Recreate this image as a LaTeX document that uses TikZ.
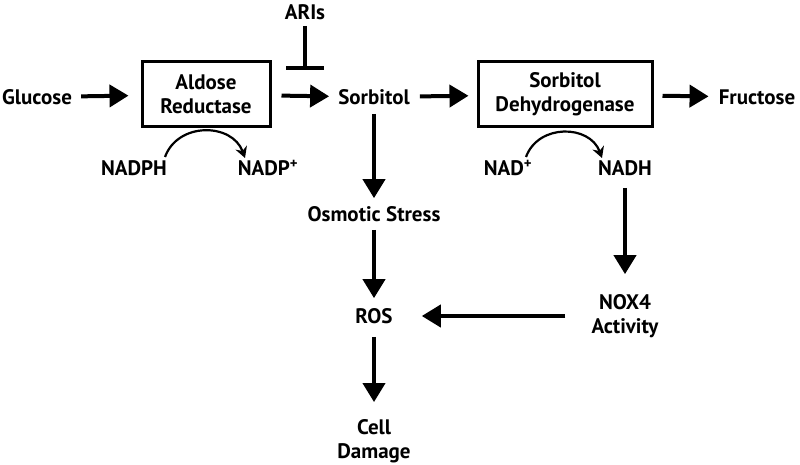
\documentclass[tikz,border=0pt]{standalone}
\usepackage{fontspec}
\setmainfont{PT Sans}
\usetikzlibrary{arrows.meta}

\begin{document}
\begin{tikzpicture}[x=1pt,y=-1pt,
	every node/.style={font=\fontsize{21}{24}\selectfont\bfseries, align=center, inner sep=0pt},
	enzyme/.style={draw, line width=3pt, minimum height=65pt},
	flow/.style={line width=4pt, -{Triangle[length=19pt,width=22pt]}},
	cofactor/.style={line width=2.2pt, -{Stealth[length=11pt,width=12pt]}, looseness=1.2},
	inhibit/.style={line width=4pt, -{Bar[width=38pt]}}]
	\useasboundingbox (0,0) rectangle (800,465);

	\node (glucose) at (37,97) {Glucose};
	\node[enzyme, minimum width=128pt] (ar) at (206,94.5) {Aldose\\Reductase};
	\node (sorbitol) at (374,97) {Sorbitol};
	\node[enzyme, minimum width=174pt] (sdh) at (565,94.5) {Sorbitol\\Dehydrogenase};
	\node (fructose) at (757,97) {Fructose};
	\node (aris) at (305,12) {ARIs};
	\coordinate (arisbar) at (305,70);

	\node (nadph) at (134,168) {NADPH};
	\node (nadpplus) at (268,168) {NADP\textsuperscript{+}};
	\node (nadplus) at (508,168) {NAD\textsuperscript{+}};
	\node (nadh) at (625,168) {NADH};

	\node (osmotic) at (374,214) {Osmotic Stress};
	\node (ros) at (374,316) {ROS};
	\node (nox4) at (625,316) {NOX4\\Activity};
	\node (damage) at (374,441) {Cell\\Damage};

	\path [flow, shorten <=9pt, shorten >=12pt] (glucose) edge (ar);
	\path [flow, shorten <=10pt, shorten >=9pt] (ar) edge (sorbitol);
	\path [flow, shorten <=10pt, shorten >=8pt] (sorbitol) edge (sdh);
	\path [flow, shorten <=9pt, shorten >=10pt] (sdh) edge (fructose);
	\path [inhibit, shorten <=6pt] (aris) edge (arisbar);

	\path [cofactor] ([xshift=31pt,yshift=11pt]nadph.center) edge[out=70,in=110] ([xshift=-23pt,yshift=10pt]nadpplus.center);
	\path [cofactor] ([xshift=18pt,yshift=11pt]nadplus.center) edge[out=70,in=110] ([xshift=-23pt,yshift=10pt]nadh.center);

	\path [flow, shorten <=9pt, shorten >=8pt] (sorbitol) edge (osmotic);
	\path [flow, shorten <=8pt, shorten >=10pt] (osmotic) edge (ros);
	\path [flow, shorten <=13pt, shorten >=17pt] (ros) edge (damage);
	\path [flow, shorten <=12pt, shorten >=20pt] (nadh) edge (nox4);
	\path [flow, shorten <=26pt, shorten >=29pt] (nox4) edge (ros);
\end{tikzpicture}
\end{document}
